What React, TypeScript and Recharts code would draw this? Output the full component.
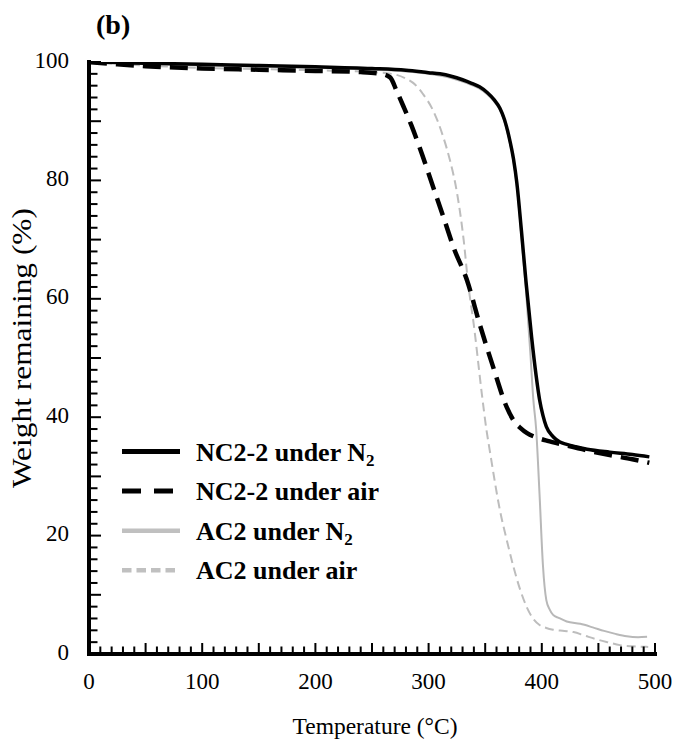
import React from 'react';
import { LineChart, Line, XAxis, YAxis, Legend, Label } from 'recharts';

const FONT = "'Liberation Serif', 'Times New Roman', Times, serif";

// NC2-2 under N2 (black solid)
const nc22N2Temp = [0, 25, 50, 100, 150, 200, 250, 280, 300, 310, 320, 330, 338, 345, 352, 358, 363, 367, 371, 375, 378, 382, 386, 391, 395, 398, 401, 404, 410, 416, 422, 430, 440, 460, 480, 495];
const nc22N2Weight = [100, 99.9, 99.8, 99.6, 99.4, 99.2, 98.9, 98.6, 98.2, 98.0, 97.6, 97.0, 96.4, 95.8, 94.8, 93.6, 92.2, 90.3, 87.4, 83.6, 79.5, 71.5, 63.0, 53.5, 47.0, 43.0, 40.3, 38.4, 36.7, 35.8, 35.4, 35.0, 34.6, 34.1, 33.7, 33.3];

// NC2-2 under air (black dashed)
const nc22AirTemp = [0, 25, 50, 100, 150, 200, 240, 258, 266, 272, 278, 285, 292, 304, 314, 322, 334, 345, 357, 369, 376, 381, 387, 395, 405, 420, 440, 460, 480, 495];
const nc22AirWeight = [100, 99.6, 99.3, 98.9, 98.7, 98.5, 98.3, 98.0, 97.4, 95.0, 92.4, 89.2, 85.6, 78.9, 73.3, 68.7, 63.1, 55.8, 48.5, 41.7, 39.2, 38.2, 37.3, 36.6, 36.0, 35.3, 34.4, 33.6, 32.9, 32.3];

// AC2 under N2 (grey solid)
const ac2N2Temp = [0, 50, 100, 150, 200, 250, 280, 300, 320, 330, 338, 345, 352, 358, 363, 367, 371, 375, 378, 382, 386, 390, 392.5, 395, 398, 401, 404, 407, 410, 415, 422, 434, 445, 455, 465, 475, 485, 493];
const ac2N2Weight = [100, 99.7, 99.4, 99.2, 99.0, 98.7, 98.4, 98.0, 97.3, 96.7, 96.1, 95.5, 94.5, 93.3, 91.9, 90.0, 87.1, 83.3, 79.0, 70.5, 61.5, 50.5, 43.0, 38.0, 27.0, 15.0, 9.1, 7.5, 6.6, 6.1, 5.5, 5.1, 4.5, 3.9, 3.4, 3.0, 2.85, 2.9];

// AC2 under air (grey dashed)
const ac2AirTemp = [0, 50, 100, 150, 200, 250, 270, 280, 288, 295, 304, 313, 319, 325, 331, 335, 340, 347, 351, 354, 363, 370, 375, 381, 387, 393, 398, 404, 410, 420, 428, 438, 448, 458, 469, 480, 494];
const ac2AirWeight = [100, 99.4, 99.0, 98.8, 98.6, 98.3, 97.9, 97.2, 96.2, 94.6, 91.8, 87.3, 83.3, 78.0, 69.9, 62.5, 55.5, 44.0, 38.0, 34.4, 24.3, 18.5, 14.7, 10.8, 7.8, 5.8, 4.9, 4.4, 4.1, 3.9, 3.7, 3.1, 2.5, 2.0, 1.5, 1.3, 1.2];

const xTickLabels = [0, 100, 200, 300, 400, 500];
const yTickLabels = [0, 20, 40, 60, 80, 100];
const xTicks = Array.from({ length: 51 }, (_, i) => i * 10);
const yTicks = Array.from({ length: 51 }, (_, i) => i * 2);

const toPoints = (t: number[], w: number[]) => t.map((temp, i) => ({ t: temp, w: w[i] }));

type Series = {
  key: string;
  label: string;
  sub: string;
  data: { t: number; w: number }[];
  stroke: string;
  width: number;
  dash?: string;
  legendStroke: string;
  legendWidth: number;
  legendDash?: string;
};

const nc22N2: Series = { key: 'nc22N2', label: 'NC2-2 under N', sub: '2', data: toPoints(nc22N2Temp, nc22N2Weight), stroke: '#000', width: 3.5, legendStroke: '#000', legendWidth: 5 };
const nc22Air: Series = { key: 'nc22Air', label: 'NC2-2 under air', sub: '', data: toPoints(nc22AirTemp, nc22AirWeight), stroke: '#000', width: 4.5, dash: '18 9', legendStroke: '#000', legendWidth: 5, legendDash: '19 13' };
const ac2N2: Series = { key: 'ac2N2', label: 'AC2 under N', sub: '2', data: toPoints(ac2N2Temp, ac2N2Weight), stroke: '#b8b8b8', width: 2, legendStroke: '#c0c0c0', legendWidth: 4.5 };
const ac2Air: Series = { key: 'ac2Air', label: 'AC2 under air', sub: '', data: toPoints(ac2AirTemp, ac2AirWeight), stroke: '#bdbdbd', width: 2, dash: '9 5', legendStroke: '#c0c0c0', legendWidth: 4.5, legendDash: '9.5 5' };

const legendOrder = [nc22N2, nc22Air, ac2N2, ac2Air];
const drawOrder = [ac2Air, ac2N2, nc22Air, nc22N2];

const XTick = (props: any) => {
  const { x, y, payload } = props;
  const v = Number(payload.value);
  const len = v % 50 === 0 ? 11 : 7.5;
  const px = Number(x);
  const py = Number(y);
  return (
    <g>
      <rect x={px - 1} y={py - len} width={2} height={len} fill="#000" stroke="none" />
      {xTickLabels.includes(v) && (
        <text x={px} y={py + 35} textAnchor="middle" fontFamily={FONT} fontSize={23} fill="#000" stroke="none">
          {v}
        </text>
      )}
    </g>
  );
};

const YTick = (props: any) => {
  const { x, y, payload } = props;
  const v = Number(payload.value);
  const len = v % 10 === 0 ? 12 : 8.5;
  const px = Number(x);
  const py = Number(y);
  return (
    <g>
      <rect x={px} y={py - 1} width={len} height={2} fill="#000" stroke="none" />
      {yTickLabels.includes(v) && (
        <text x={px - 20} y={py + 5.5} textAnchor="end" fontFamily={FONT} fontSize={23} fill="#000" stroke="none">
          {v}
        </text>
      )}
    </g>
  );
};

const LegendContent = () => (
  <svg width={330} height={170} style={{ display: 'block' }}>
    {legendOrder.map((s, i) => {
      const base = 30.5 + 39.6 * i;
      const ly = base - 9;
      return (
        <g key={s.key}>
          <line x1={0} x2={58} y1={ly} y2={ly} stroke={s.legendStroke} strokeWidth={s.legendWidth} strokeDasharray={s.legendDash} />
          <text x={74} y={base} fontFamily={FONT} fontWeight="bold" fontSize={26} fill="#000">
            <tspan>{s.label}</tspan>
            {s.sub && (
              <tspan dy={5} fontSize={17}>
                {s.sub}
              </tspan>
            )}
          </text>
        </g>
      );
    })}
  </svg>
);

const YTitle = () => (
  <g>
    <text
      x={31}
      y={348}
      transform="rotate(-90 31 348)"
      textAnchor="middle"
      fontFamily={FONT}
      fontSize={28}
      fill="#000"
      textLength={280}
      lengthAdjust="spacingAndGlyphs"
    >
      Weight remaining (%)
    </text>
    <text x={96} y={34} fontFamily={FONT} fontWeight="bold" fontSize={28} fill="#000">
      (b)
    </text>
  </g>
);

const XTitle = () => (
  <text x={375} y={734} textAnchor="middle" fontFamily={FONT} fontSize={23.5} fill="#000">
    Temperature (°C)
  </text>
);

export default function App() {
  return (
    <div style={{ position: 'absolute', left: 0, top: 0, width: 684, height: 742, background: '#fff' }}>
      <LineChart width={684} height={742} margin={{ top: 62, right: 29, bottom: 48, left: 29 }}>
        <XAxis
          xAxisId={0}
          dataKey="t"
          type="number"
          domain={[0, 500]}
          ticks={xTicks}
          interval={0}
          tickSize={0}
          tickMargin={0}
          height={40}
          tickLine={false}
          axisLine={{ stroke: '#000', strokeWidth: 4, strokeLinecap: 'square' }}
          tick={<XTick />}
          allowDataOverflow
        >
          <Label content={<XTitle />} />
        </XAxis>
        <XAxis
          xAxisId="top"
          orientation="top"
          type="number"
          domain={[0, 500]}
          height={0}
          tick={false}
          tickLine={false}
          axisLine={{ stroke: '#000', strokeWidth: 3, strokeLinecap: 'square' }}
        />
        <YAxis
          yAxisId={0}
          type="number"
          domain={[0, 100]}
          ticks={yTicks}
          interval={0}
          tickSize={0}
          tickMargin={0}
          width={60}
          tickLine={false}
          axisLine={{ stroke: '#000', strokeWidth: 4, strokeLinecap: 'square' }}
          tick={<YTick />}
          allowDataOverflow
        >
          <Label content={<YTitle />} />
        </YAxis>
        <YAxis
          yAxisId="right"
          orientation="right"
          type="number"
          domain={[0, 100]}
          width={0}
          tick={false}
          tickLine={false}
          axisLine={{ stroke: '#000', strokeWidth: 3, strokeLinecap: 'square' }}
        />
        <Legend
          layout="vertical"
          align="center"
          verticalAlign="middle"
          content={<LegendContent />}
          wrapperStyle={{ left: 122, top: 430, width: 330, height: 170 }}
        />
        {drawOrder.map((s) => (
          <Line
            key={s.key}
            xAxisId={0}
            yAxisId={0}
            data={s.data}
            dataKey="w"
            name={s.label + s.sub}
            type="monotone"
            stroke={s.stroke}
            strokeWidth={s.width}
            strokeDasharray={s.dash}
            dot={false}
            activeDot={false}
            isAnimationActive={false}
          />
        ))}
      </LineChart>
    </div>
  );
}
